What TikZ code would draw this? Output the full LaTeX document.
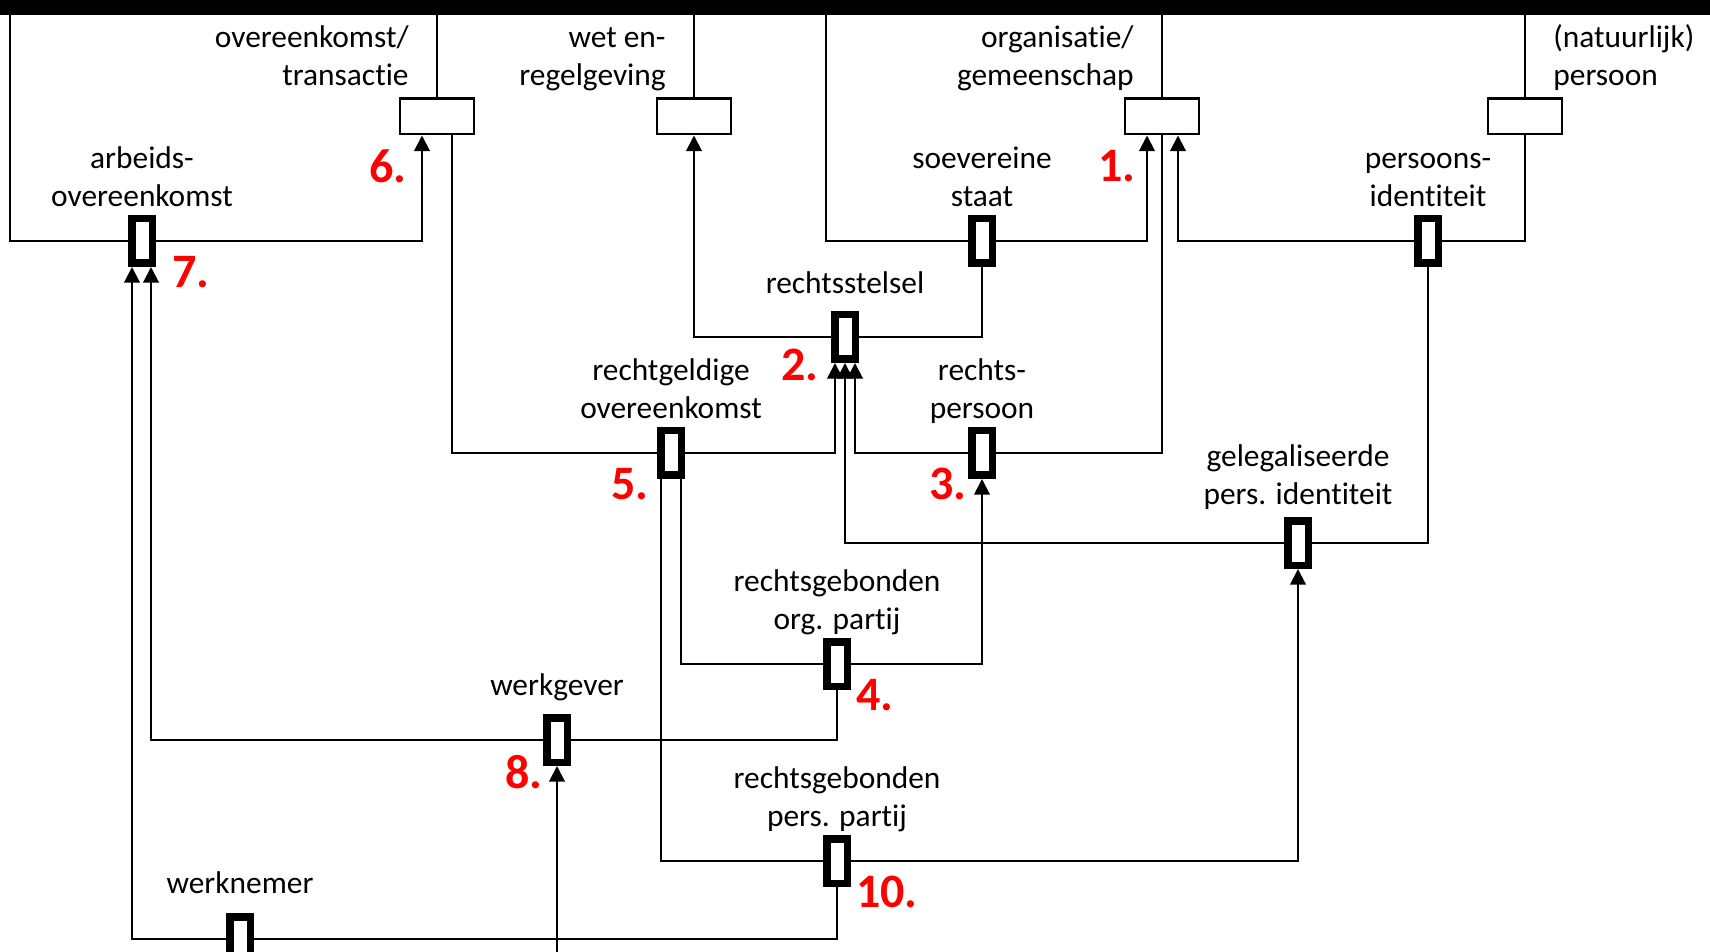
\documentclass[tikz,border=0pt]{standalone}
\usepackage{fontspec}
\setmainfont{Carlito}[Ligatures=NoCommon]
\usetikzlibrary{arrows.meta,calc,positioning}
\pgfdeclarelayer{bg}
\pgfsetlayers{bg,main}
\tikzset{
  conn/.style={line width=1pt, black},
  arr/.style={conn, -{Triangle[width=7.8pt,length=7.8pt]}},
  relbox/.style={draw, line width=3.75pt, fill=white, minimum width=10.25pt, minimum height=22.25pt, inner sep=0pt},
  typebox/.style={draw, line width=1.2pt, fill=white, minimum width=36.8pt, minimum height=17.8pt, inner sep=0pt},
  lbl/.style={font=\fontsize{15.7}{19}\selectfont, align=center, inner sep=0pt, anchor=south},
  num/.style={font=\fontsize{24}{28}\selectfont\bfseries, text=red, inner sep=0pt}
}
\begin{document}
\begin{tikzpicture}[x=0.5pt,y=-0.5pt]
\useasboundingbox (0,0) rectangle (1710,952);
% top bar
\node[fill=black, minimum width=855pt, minimum height=7.5pt, inner sep=0pt, outer sep=0pt, anchor=north west] (bar) at (0,0) {};
% type boxes
\node[typebox] (t6) at (437,116.5) {};
\node[typebox] (tw) at (694,116.5) {};
\node[typebox] (to) at (1162,116.5) {};
\node[typebox] (tp) at (1525,116.5) {};
% relation boxes
\node[relbox] (b7)  at (142,241) {};
\node[relbox] (bs)  at (982,241) {};
\node[relbox] (bpi) at (1428,241) {};
\node[relbox] (b2)  at (845,337) {};
\node[relbox] (b5)  at (671,453) {};
\node[relbox] (b3)  at (982,453) {};
\node[relbox] (bg)  at (1298,543) {};
\node[relbox] (b4)  at (837,664) {};
\node[relbox] (b8)  at (557,740) {};
\node[relbox] (b10) at (837,861) {};
\node[relbox] (bwn) at (240,939) {};
\coordinate (bot) at (557,952);
% top labels
\node[lbl, anchor=south east, align=right] (l6) at ($(t6.north)+(-28,0)$) {overeenkomst/\\transactie\strut};
\node[lbl, anchor=south east, align=right] (lw) at ($(tw.north)+(-28,0)$) {wet en-\\regelgeving\strut};
\node[lbl, anchor=south east, align=right] (lo) at ($(to.north)+(-28,0)$) {organisatie/\\gemeenschap\strut};
\node[lbl, anchor=south west, align=left] (lp) at ($(tp.north)+(28,0)$) {(natuurlijk)\\persoon\strut};
% relation labels
\node[lbl, above=-1.5pt of b7] (l7) {arbeids-\\overeenkomst\strut};
\node[lbl, above=-1.5pt of bs] (ls) {soevereine\\staat\strut};
\node[lbl, above=-1.5pt of bpi] (lpi) {persoons-\\identiteit\strut};
\node[lbl, above=2.8pt of b2] (l2) {rechtsstelsel\strut};
\node[lbl, above=-1.5pt of b5] (l5) {rechtgeldige\\overeenkomst\strut};
\node[lbl, above=-1.5pt of b3] (l3) {rechts-\\persoon\strut};
\node[lbl, above=0.5pt of bg] (lg) {gelegaliseerde\\pers. identiteit\strut};
\node[lbl, above=-1.5pt of b4] (l4) {rechtsgebonden\\org. partij\strut};
\node[lbl, above=3.5pt of b8] (l8) {werkgever\strut};
\node[lbl, above=-1.5pt of b10] (l10) {rechtsgebonden\\pers. partij\strut};
\node[lbl, above=4pt of bwn] (lwn) {werknemer\strut};
% red numbers
\node[num] (n1) at (1117,166) {1.};
\node[num] (n2) at (800,365) {2.};
\node[num] (n3) at (948,484) {3.};
\node[num] (n4) at (875,695) {4.};
\node[num] (n5) at (630,484) {5.};
\node[num] (n6) at (388,166) {6.};
\node[num] (n7) at (191,272) {7.};
\node[num] (n8) at (524,772) {8.};
\node[num] (n10) at (887,892) {10.};
% connectors
\begin{pgfonlayer}{bg}
\draw[conn] (t6.north) -- (t6.north |- bar.south);
\draw[conn] (tw.north) -- (tw.north |- bar.south);
\draw[conn] (to.north) -- (to.north |- bar.south);
\draw[conn] (tp.north) -- (tp.north |- bar.south);
\draw[conn] (b7.west) -| ($(bar.south west)+(10,0)$);
\draw[arr] (b7.east) -| ($(t6.south)+(-15,0)$);
\draw[conn] (bs.west) -| ($(bar.south west)+(826,0)$);
\draw[arr] (bs.east) -| ($(to.south)+(-15,0)$);
\draw[conn] (tp.south) |- (bpi.east);
\draw[arr] (bpi.west) -| ($(to.south)+(16,0)$);
\draw[conn] (bs.south) |- (b2.east);
\draw[arr] (b2.west) -| (tw.south);
\draw[conn] ($(t6.south)+(15,0)$) |- (b5.west);
\draw[arr] (b5.east) -| ($(b2.south)+(-10,0)$);
\draw[conn] (to.south) |- (b3.east);
\draw[arr] (b3.west) -| ($(b2.south)+(10,0)$);
\draw[conn] (bpi.south) |- (bg.east);
\draw[arr] (bg.west) -| (b2.south);
\draw[conn] ($(b5.south)+(10,0)$) |- (b4.west);
\draw[arr] (b4.east) -| (b3.south);
\draw[conn] ($(b5.south)+(-10,0)$) |- (b10.west);
\draw[arr] (b10.east) -| (bg.south);
\draw[conn] (b4.south) |- (b8.east);
\draw[arr] (b8.west) -| ($(b7.south)+(9,0)$);
\draw[conn] (b10.south) |- (bwn.east);
\draw[arr] (bwn.west) -| ($(b7.south)+(-10,0)$);
\draw[arr] (bot) -- (b8.south);
\end{pgfonlayer}
\end{tikzpicture}
\end{document}
